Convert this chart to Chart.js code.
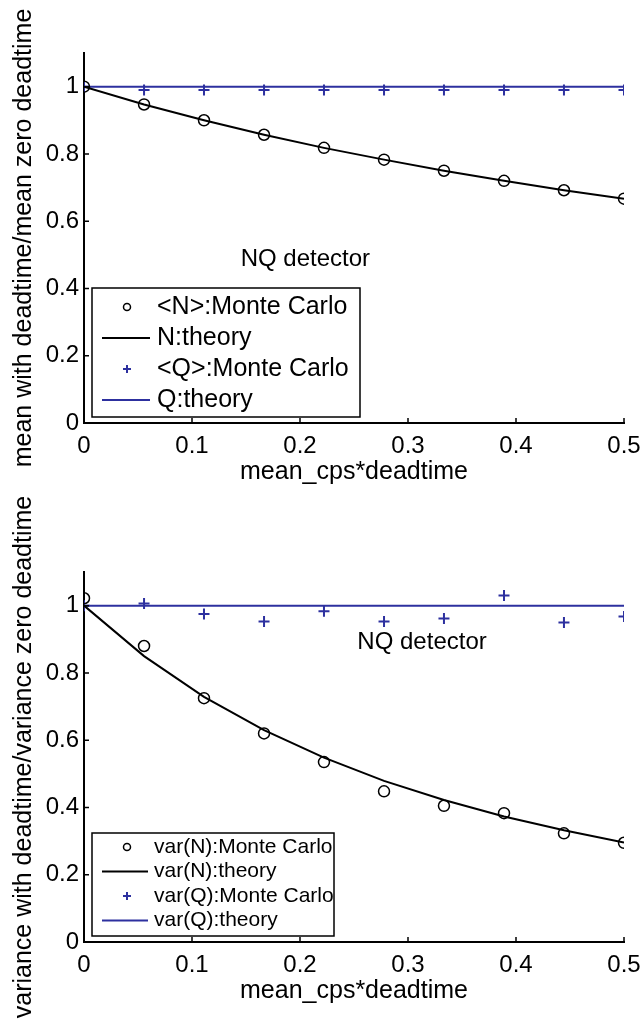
<!DOCTYPE html>
<html>
<head>
<meta charset="utf-8">
<script src="https://cdn.jsdelivr.net/npm/chart.js@4/dist/chart.umd.min.js"></script>
<style>
  html, body { margin: 0; padding: 0; background: #fff; }
  body { position: relative; width: 641px; height: 1030px; overflow: hidden; }
  canvas { position: absolute; left: 0; }
  #meanChart { top: 0; }
  #varChart { top: 480px; }
</style>
</head>
<body>
<canvas id="meanChart" width="641" height="519"></canvas>
<canvas id="varChart" width="641" height="550"></canvas>
<script>
// values
const xValues = [0, 0.0556, 0.1111, 0.1667, 0.2222, 0.2778, 0.3333, 0.3889, 0.4444, 0.5];

const meanNMonteCarlo = [1.0, 0.947, 0.9, 0.857, 0.818, 0.783, 0.75, 0.72, 0.692, 0.667];
const meanNTheory = [1.0, 0.947, 0.9, 0.857, 0.818, 0.783, 0.75, 0.72, 0.692, 0.667];
const meanQMonteCarlo = [1.0, 0.99, 0.99, 0.99, 0.99, 0.99, 0.99, 0.99, 0.99, 0.99];
const meanQTheory = [1, 1, 1, 1, 1, 1, 1, 1, 1, 1];

const varNMonteCarlo = [1.022, 0.88, 0.725, 0.62, 0.535, 0.448, 0.405, 0.383, 0.323, 0.295];
const varNTheory = [1.0, 0.85, 0.729, 0.63, 0.548, 0.479, 0.422, 0.373, 0.332, 0.296];
const varQMonteCarlo = [1.0, 1.006, 0.975, 0.953, 0.983, 0.953, 0.962, 1.03, 0.95, 0.968];
const varQTheory = [1, 1, 1, 1, 1, 1, 1, 1, 1, 1];

const xTicks = [0, 0.1, 0.2, 0.3, 0.4, 0.5];
const yTicks = [0, 0.2, 0.4, 0.6, 0.8, 1];

const meanLabels = ["<N>:Monte Carlo", "N:theory", "<Q>:Monte Carlo", "Q:theory"];
const varLabels = ["var(N):Monte Carlo", "var(N):theory", "var(Q):Monte Carlo", "var(Q):theory"];

const BLUE = "#2d309f";
const FONT = "'Liberation Sans', Arial, Helvetica, sans-serif";

const toPoints = (ys) => xValues.map((x, i) => ({ x: x, y: ys[i] }));

// inward ticks, legend box and the text label, drawn in MATLAB style
const matlabExtras = {
  id: "matlabExtras",
  afterDatasetsDraw(chart, args, opts) {
    const ctx = chart.ctx;
    const area = chart.chartArea;
    const xs = chart.scales.x;
    const ys = chart.scales.y;
    ctx.save();

    // ticks pointing into the plot
    ctx.strokeStyle = "#000";
    ctx.lineWidth = 1.5;
    ctx.beginPath();
    xTicks.forEach((v) => {
      const px = xs.getPixelForValue(v);
      ctx.moveTo(px, area.bottom);
      ctx.lineTo(px, area.bottom - 5);
    });
    yTicks.forEach((v) => {
      const py = ys.getPixelForValue(v);
      ctx.moveTo(area.left, py);
      ctx.lineTo(area.left + 5, py);
    });
    ctx.stroke();

    // annotation
    ctx.fillStyle = "#000";
    ctx.font = "24px " + FONT;
    ctx.textAlign = "center";
    ctx.textBaseline = "middle";
    ctx.fillText(opts.note, xs.getPixelForValue(opts.noteX), ys.getPixelForValue(opts.noteY));

    // legend
    const lg = opts.legend;
    const bx = area.left + lg.left;
    const by = area.bottom - lg.bottom - lg.height;
    ctx.fillStyle = "#fff";
    ctx.fillRect(bx, by, lg.width, lg.height);
    ctx.strokeStyle = "#000";
    ctx.lineWidth = 1.5;
    ctx.strokeRect(bx, by, lg.width, lg.height);

    ctx.font = lg.fontSize + "px " + FONT;
    ctx.textAlign = "left";
    chart.data.datasets.forEach((ds, i) => {
      const cy = by + lg.firstRow + i * lg.rowGap;
      const mx = bx + 35;
      ctx.strokeStyle = ds.borderColor;
      if (ds.showLine) {
        ctx.lineWidth = 2;
        ctx.beginPath();
        ctx.moveTo(bx + 10, cy);
        ctx.lineTo(bx + lg.lineEnd, cy);
        ctx.stroke();
      } else if (ds.pointStyle === "circle") {
        ctx.lineWidth = 1.5;
        ctx.beginPath();
        ctx.arc(mx, cy, 3.5, 0, Math.PI * 2);
        ctx.stroke();
      } else {
        ctx.lineWidth = 2;
        ctx.beginPath();
        ctx.moveTo(mx - 4, cy);
        ctx.lineTo(mx + 4, cy);
        ctx.moveTo(mx, cy - 4);
        ctx.lineTo(mx, cy + 4);
        ctx.stroke();
      }
      ctx.fillStyle = "#000";
      ctx.fillText(ds.label, bx + lg.textStart, cy);
    });
    ctx.restore();
  }
};

function makeChart(id, sets, labels, yTitle, extras, layout) {
  return new Chart(document.getElementById(id), {
    type: "scatter",
    data: {
      datasets: [
        {
          label: labels[0],
          data: toPoints(sets[0]),
          pointStyle: "circle",
          pointRadius: 5.5,
          pointBorderWidth: 1.5,
          borderColor: "#000",
          backgroundColor: "rgba(0,0,0,0)",
          showLine: false
        },
        {
          label: labels[1],
          data: toPoints(sets[1]),
          showLine: true,
          pointRadius: 0,
          borderWidth: 2,
          borderColor: "#000",
          tension: 0
        },
        {
          label: labels[2],
          data: toPoints(sets[2]),
          pointStyle: "cross",
          pointRadius: 5.5,
          pointBorderWidth: 2,
          borderColor: BLUE,
          backgroundColor: BLUE,
          showLine: false
        },
        {
          label: labels[3],
          data: toPoints(sets[3]),
          showLine: true,
          pointRadius: 0,
          borderWidth: 2,
          borderColor: BLUE,
          tension: 0
        }
      ]
    },
    options: {
      responsive: false,
      animation: false,
      devicePixelRatio: 1,
      layout: { padding: { top: layout.top, right: 17, left: 0, bottom: 0 } },
      plugins: {
        legend: { display: false },
        tooltip: { enabled: false },
        matlabExtras: extras
      },
      scales: {
        x: {
          type: "linear",
          min: 0,
          max: 0.5,
          afterBuildTicks: (scale) => { scale.ticks = xTicks.map((v) => ({ value: v })); },
          afterFit: (scale) => {
            scale.height = layout.xHeight;
            scale.paddingLeft = 0;
            scale.paddingRight = 0;
          },
          grid: { display: false, drawTicks: false },
          border: { display: true, color: "#000", width: 2 },
          ticks: {
            color: "#000",
            padding: 9,
            font: { family: FONT, size: 24 },
            callback: (v) => String(v)
          },
          title: {
            display: true,
            text: "mean_cps*deadtime",
            color: "#000",
            font: { family: FONT, size: 25 },
            padding: { top: 0, bottom: layout.titlePad }
          }
        },
        y: {
          type: "linear",
          min: 0,
          max: 1.1,
          afterBuildTicks: (scale) => { scale.ticks = yTicks.map((v) => ({ value: v })); },
          afterFit: (scale) => {
            scale.width = 84;
            scale.paddingTop = 0;
            scale.paddingBottom = 0;
          },
          grid: { display: false, drawTicks: false },
          border: { display: true, color: "#000", width: 2 },
          ticks: {
            color: "#000",
            padding: 5,
            font: { family: FONT, size: 24 },
            callback: (v) => String(v)
          },
          title: {
            display: true,
            text: yTitle,
            color: "#000",
            font: { family: FONT, size: 25 },
            padding: { top: 9, bottom: 0 }
          }
        }
      }
    },
    plugins: [matlabExtras]
  });
}

makeChart(
  "meanChart",
  [meanNMonteCarlo, meanNTheory, meanQMonteCarlo, meanQTheory],
  meanLabels,
  "mean with deadtime/mean zero deadtime",
  {
    note: "NQ detector", noteX: 0.205, noteY: 0.485,
    legend: { left: 8, bottom: 6, width: 268, height: 129, firstRow: 19, rowGap: 31, fontSize: 25, lineEnd: 58, textStart: 65 }
  },
  { top: 53, xHeight: 96, titlePad: 32 }
);

makeChart(
  "varChart",
  [varNMonteCarlo, varNTheory, varQMonteCarlo, varQTheory],
  varLabels,
  "variance with deadtime/variance zero deadtime",
  {
    note: "NQ detector", noteX: 0.313, noteY: 0.89,
    legend: { left: 8, bottom: 6, width: 242, height: 103, firstRow: 14, rowGap: 24.5, fontSize: 21, lineEnd: 56, textStart: 62 }
  },
  { top: 92, xHeight: 88, titlePad: 24 }
);
</script>
</body>
</html>
